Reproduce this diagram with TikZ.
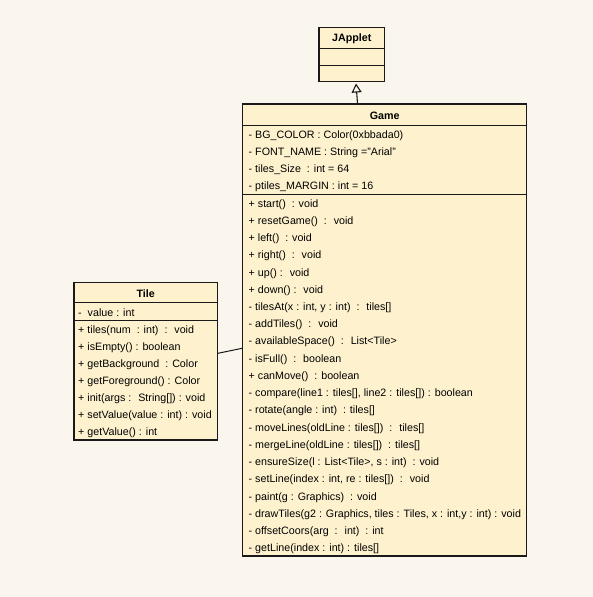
\documentclass[tikz,border=0pt]{standalone}
\usepackage{fontspec}
\setmainfont{Liberation Sans}
\usetikzlibrary{arrows.meta}
\definecolor{fond}{RGB}{250,246,238}
\definecolor{jaune}{RGB}{254,242,206}
\definecolor{trait}{RGB}{25,25,25}

\begin{document}
\begin{tikzpicture}[x=1pt,y=-1pt]
% style des noeuds
\tikzstyle{classe} = [rectangle, draw=trait, fill=jaune, line width=1.2pt, inner sep=0pt]
\tikzstyle{titre} = [inner sep=0pt, yshift=-1pt, font=\fontsize{10.7}{12}\selectfont\bfseries]
\tikzstyle{membre} = [anchor=west, inner sep=0pt, yshift=-1.7pt, text height=8pt, text depth=2.5pt, font=\fontsize{10.7}{12}\selectfont]
\tikzstyle{sep} = [draw=trait, line width=0.9pt]
% style des flèches
\tikzstyle{herite} = [-{Triangle[open, length=9pt, width=10pt]}, line width=1.1pt, draw=trait]
\tikzstyle{lien} = [line width=1pt, draw=trait]

% fond
\fill[fond] (0,0) rectangle (593,597);

%% placement des noeuds
\node[classe, minimum width=65.3pt, minimum height=54.4pt] (japplet) at (351.7,54.5) {};
\node[titre] (japplet-titre) at (351.7,38) {JApplet};
\draw[sep] (japplet.west |- 0,48.3) -- (japplet.east |- 0,48.3);
\draw[sep] (japplet.west |- 0,65.7) -- (japplet.east |- 0,65.7);
%
\node[classe, minimum width=284pt, minimum height=452pt] (game) at (384.7,330) {};
\node[titre] (game-titre) at (384.7,114.8) {Game};
\draw[sep] (game.west |- 0,125.3) -- (game.east |- 0,125.3);
\draw[sep] (game.west |- 0,194) -- (game.east |- 0,194);
\foreach \txt [count=\i] in {- BG\_COLOR : Color(0xbbada0),
    - FONT\_NAME : String ="Arial",
    - tiles\_Size~ : int = 64,
    - ptiles\_MARGIN : int = 16}
  \node[membre] (game-a\i) at (248.5, {125.3+(\i-0.5)*17.2}) {\txt};
\foreach \txt [count=\i] in {+ start()~ : void,
    + resetGame()~ :~ void,
    + left()~ : void,
    + right()~ :~ void,
    + up() :~ void,
    + down() :~ void,
    {- tilesAt(x : int, y : int)~ :~ tiles[]},
    - addTiles()~ :~ void,
    - availableSpace()~ :~ List<Tile>,
    - isFull()~ :~ boolean,
    + canMove()~ : boolean,
    {- compare(line1 : tiles[], line2 : tiles[]) : boolean},
    - rotate(angle : int)~ : tiles[],
    - moveLines(oldLine : tiles[])~ :~ tiles[],
    - mergeLine(oldLine : tiles[])~ : tiles[],
    {- ensureSize(l : List<Tile>, s : int)~ : void},
    {- setLine(index : int, re : tiles[])~ :~ void},
    - paint(g : Graphics)~ : void,
    {- drawTiles(g2 : Graphics, tiles : Tiles, x : int,y : int) : void},
    - offsetCoors(arg~ :~ int)~ : int,
    - getLine(index : int) : tiles[]}
  \node[membre] (game-m\i) at (248.5, {194+(\i-0.5)*17.24}) {\txt};
%
\node[classe, minimum width=143.3pt, minimum height=157.7pt] (tile) at (145.7,361.2) {};
\node[titre] (tile-titre) at (145.7,292.7) {Tile};
\draw[sep] (tile.west |- 0,302.7) -- (tile.east |- 0,302.7);
\draw[sep] (tile.west |- 0,320.7) -- (tile.east |- 0,320.7);
\node[membre] (tile-a1) at (78, 311.7) {-~ value : int};
\foreach \txt [count=\i] in {+ tiles(num~ : int)~ :~ void,
    + isEmpty() : boolean,
    + getBackground~ : Color,
    + getForeground() : Color,
    + init(args :~ String[]) : void,
    + setValue(value : int) : void,
    + getValue() : int}
  \node[membre] (tile-m\i) at (78, {320.7+(\i-0.5)*17.05}) {\txt};
%
%% placement des flèches
\draw[herite] ([xshift=-27.2pt]game.north) -- ([xshift=4.3pt, yshift=-1.2pt]japplet.south);
\draw[lien] ([yshift=7.9pt]tile.east) -- ([yshift=-18.3pt]game.west);
\end{tikzpicture}
\end{document}
